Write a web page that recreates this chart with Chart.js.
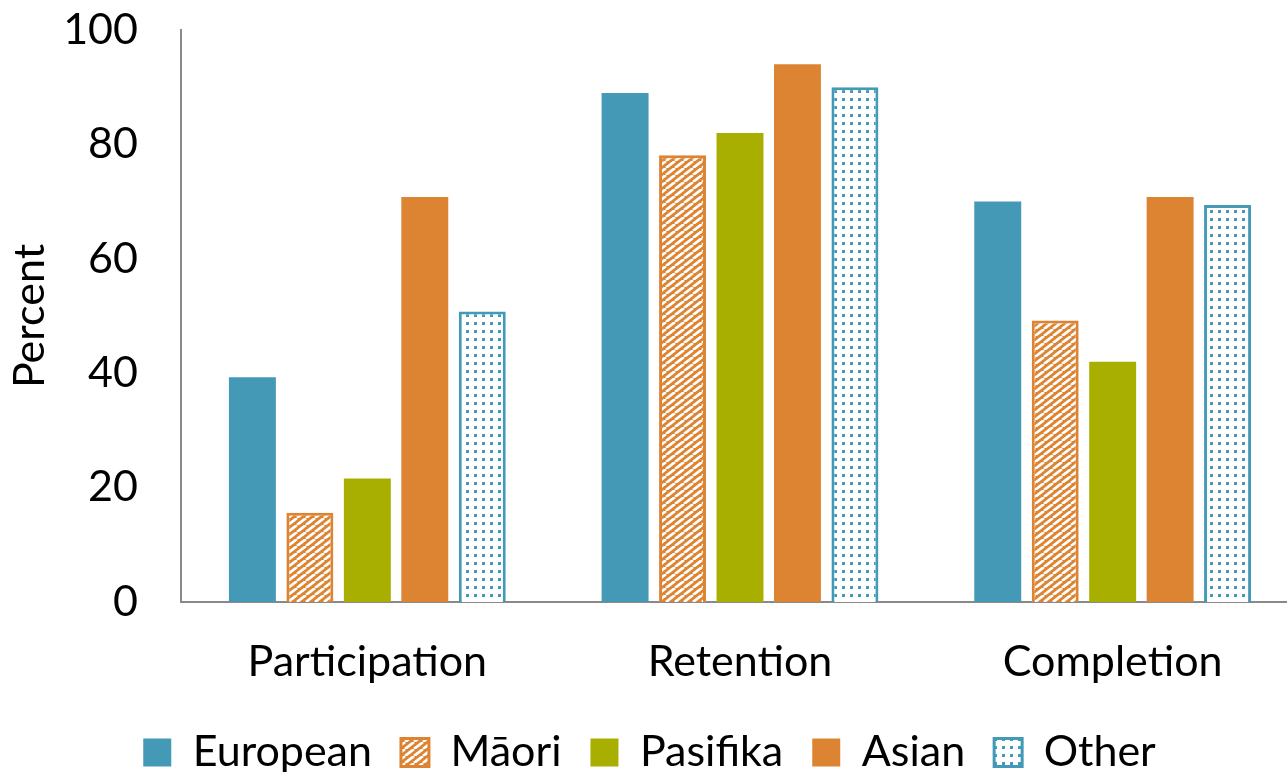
<!DOCTYPE html>
<html>
<head>
<meta charset="utf-8">
<script src="https://cdn.jsdelivr.net/npm/chart.js@4.4.1/dist/chart.umd.min.js"></script>
<style>
  html, body { margin: 0; padding: 0; overflow: hidden; background: #fff; }
  #wrap { position: relative; width: 1299px; height: 784px; }
</style>
</head>
<body>
<div id="wrap"><canvas id="chart"></canvas></div>
<script>
// data
const categories = ["Participation", "Retention", "Completion"];
const european = [39.3, 89.0, 70.0];
const maori = [15.6, 78.1, 49.2];
const pasifika = [21.6, 82.0, 42.0];
const asian = [70.8, 94.0, 70.8];
const other = [50.8, 90.0, 69.4];

const BLUE = '#4499B6';
const ORANGE = '#DD8433';
const OLIVE = '#A9AF00';

// orange with white diagonal stripes (Maori)
function stripePattern() {
    const c = document.createElement('canvas');
    c.width = 9; c.height = 7;
    const g = c.getContext('2d');
    g.fillStyle = ORANGE;
    g.fillRect(0, 0, 9, 7);
    g.strokeStyle = '#fff';
    g.lineWidth = 2.7;
    for (const o of [-9, 0, 9]) {
        g.beginPath();
        g.moveTo(o, 7);
        g.lineTo(o + 9, 0);
        g.stroke();
    }
    return g.createPattern(c, 'repeat');
}

// white with small blue squares (Other)
function dotPattern() {
    const c = document.createElement('canvas');
    c.width = 8; c.height = 8;
    const g = c.getContext('2d');
    g.fillStyle = '#fff';
    g.fillRect(0, 0, 8, 8);
    g.fillStyle = BLUE;
    g.fillRect(2, 2, 3, 3);
    return g.createPattern(c, 'repeat');
}

const FONT = { family: 'Lato, "Open Sans", sans-serif', size: 43 };

const ctx = document.getElementById('chart').getContext('2d');
new Chart(ctx, {
    type: 'bar',
    data: {
        labels: categories,
        datasets: [
            { label: 'European', data: european, backgroundColor: BLUE, borderWidth: 0 },
            { label: 'Māori', data: maori, backgroundColor: stripePattern(), borderColor: ORANGE, borderWidth: 3 },
            { label: 'Pasifika', data: pasifika, backgroundColor: OLIVE, borderWidth: 0 },
            { label: 'Asian', data: asian, backgroundColor: ORANGE, borderWidth: 0 },
            { label: 'Other', data: other, backgroundColor: dotPattern(), borderColor: BLUE, borderWidth: 3 }
        ]
    },
    options: {
        responsive: true,
        maintainAspectRatio: false,
        animation: false,
        categoryPercentage: 0.771,
        barPercentage: 0.817,
        layout: { padding: { top: 30, left: 0, right: 0, bottom: 0 } },
        plugins: {
            tooltip: { enabled: false },
            legend: {
                position: 'bottom',
                labels: {
                    font: FONT,
                    color: '#000',
                    boxWidth: 28,
                    boxHeight: 28,
                    padding: 29
                }
            }
        },
        scales: {
            x: {
                grid: { display: false, tickLength: 8 },
                border: { display: true, color: '#898989', width: 2 },
                ticks: { font: FONT, color: '#000', padding: 26 },
                afterFit: s => { s.height = 100; }
            },
            y: {
                min: 0,
                max: 100,
                // tick offset comes from tickLength so it does not add top padding
                grid: { display: false, tickLength: 43 },
                border: { display: true, color: '#898989', width: 2 },
                ticks: { stepSize: 20, font: FONT, color: '#000', padding: 0 },
                title: { display: true, text: 'Percent', font: FONT, color: '#000', padding: { top: 4, bottom: 0 } },
                afterFit: s => { s.width = 181; }
            }
        }
    }
});
</script>
</body>
</html>
